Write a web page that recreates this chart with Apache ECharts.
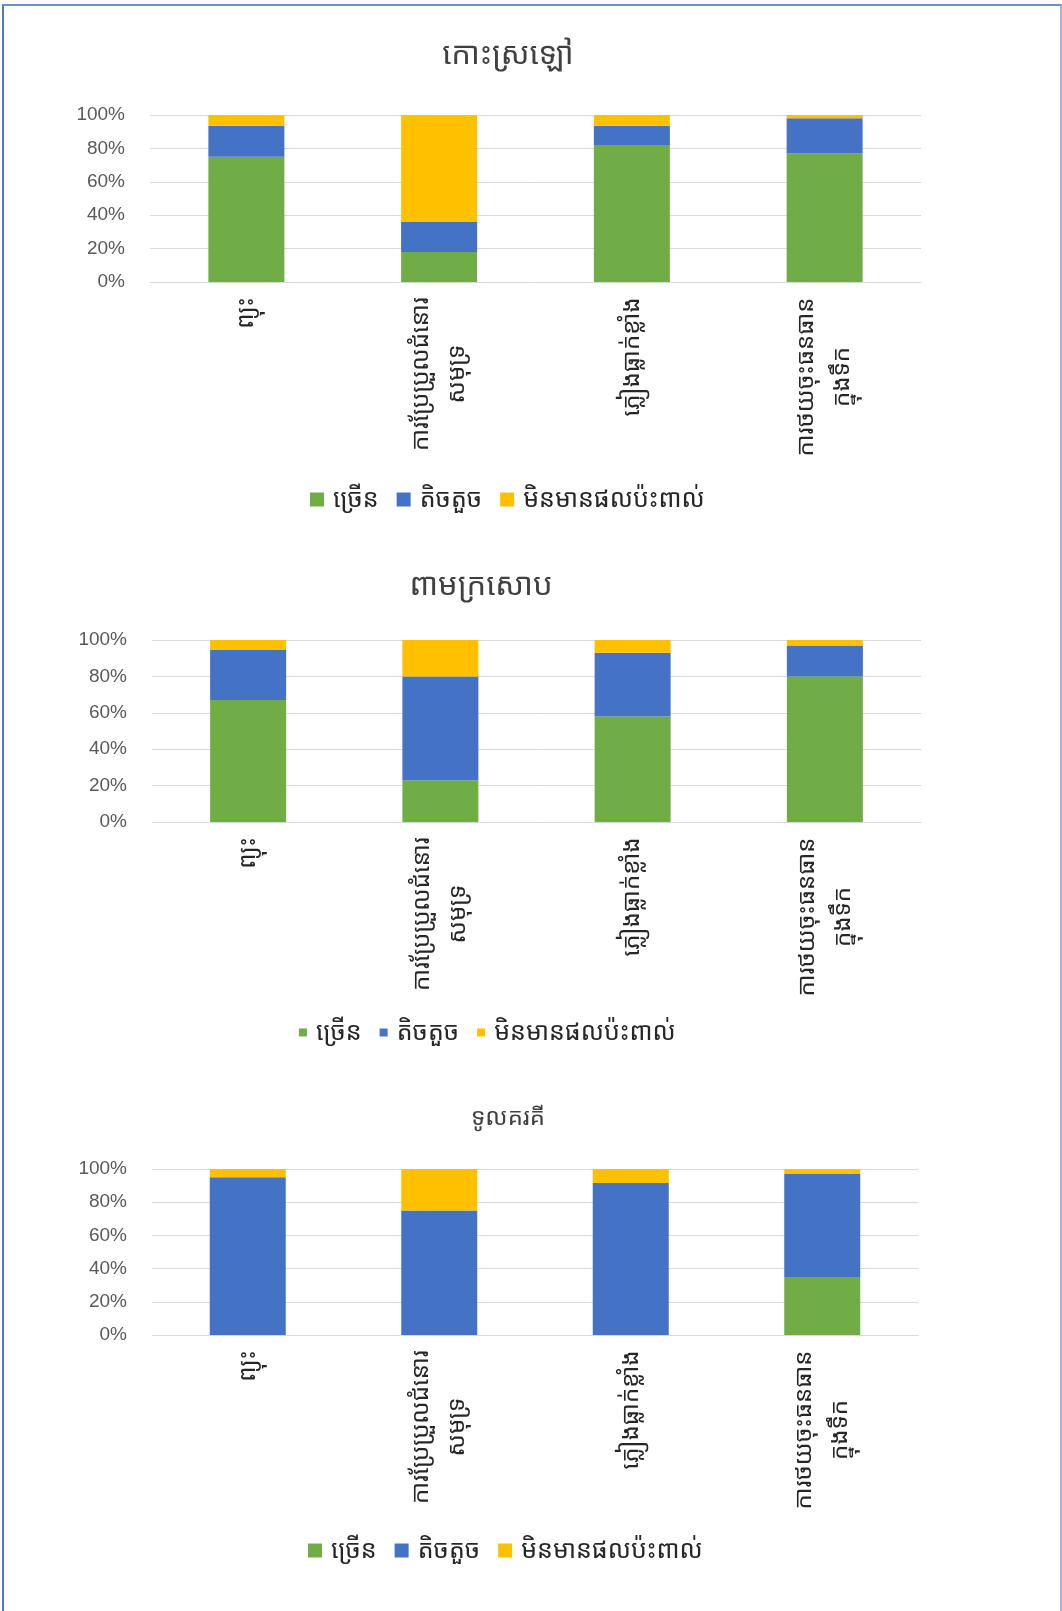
<!DOCTYPE html>
<html>
<head>
<meta charset="utf-8">
<script src="https://cdn.jsdelivr.net/npm/echarts@6/dist/echarts.min.js"></script>
<style>
  html, body { margin: 0; padding: 0; background: #fff; }
  #frame { position: absolute; left: 2px; top: 4px; width: 1056px; height: 1640px;
           border-left: 2px solid #4f7cc4; border-top: 2px solid #6d8fcb; border-right: 2px solid #9fb3d6; }
  #chart { position: absolute; left: 0; top: 0; width: 1062px; height: 1611px; }
</style>
</head>
<body>
<div id="frame"></div>
<div id="chart"></div>
<script>
// ---- data ----
const categories = ['ព្យុះ', 'ការប្រែប្រួលជំនោរ\nសមុទ្រ', 'ភ្លៀងធ្លាក់ខ្លាំង', 'ការថយចុះធនធាន\nក្នុងទឹក'];
const seriesNames = ['ច្រើន', 'តិចតួច', 'មិនមានផលប៉ះពាល់'];
const chartTitles = ['កោះស្រឡៅ', 'ពាមក្រសោប', 'ទូលគរគី'];
const yTicks = [0, 20, 40, 60, 80, 100];

const kohSralauMuch   = [75, 18, 82, 77];
const kohSralauLittle = [18.5, 18, 11.5, 21];
const kohSralauNone   = [6.5, 64, 6.5, 2];

const peamKrasopMuch   = [67, 23, 58, 80];
const peamKrasopLittle = [27.5, 57, 35, 17];
const peamKrasopNone   = [5.5, 20, 7, 3];

const toulKorKeyMuch   = [0, 0, 0, 35];
const toulKorKeyLittle = [95, 75, 91.5, 62];
const toulKorKeyNone   = [5, 25, 8.5, 3];

// ---- layout / style ----
const colors = ['#70ad47', '#4472c4', '#ffc000'];
const khmerFont = '"Khmer OS", "Khmer OS System", "Noto Sans Khmer", "Noto Serif Khmer", "Noto Sans", sans-serif';
const latinFont = '"Liberation Sans", Arial, sans-serif';
const catFontSize = 24;

// measure label lines so multi-line labels can be centred line-by-line
const ctx = document.createElement('canvas').getContext('2d');
ctx.font = catFontSize + 'px ' + khmerFont;
const catRich = {};
categories.forEach((c, idx) => {
  const w = Math.max(...c.split('\n').map(l => ctx.measureText(l).width));
  catRich['c' + idx] = { width: Math.ceil(w) + 2, align: 'center',
                         fontFamily: khmerFont, fontSize: catFontSize, color: '#262626', lineHeight: 36 };
});

const panels = [
  { data: [kohSralauMuch, kohSralauLittle, kohSralauNone],
    grid: { left: 150, top: 115, width: 771, height: 167 },
    title: { x: 503, y: 35, size: 31 },
    legend: { x: 305, y: 482, sq: 14 } },
  { data: [peamKrasopMuch, peamKrasopLittle, peamKrasopNone],
    grid: { left: 152, top: 640, width: 769, height: 182 },
    title: { x: 476, y: 566, size: 31 },
    legend: { x: 294, y: 1015, sq: 8 } },
  { data: [toulKorKeyMuch, toulKorKeyLittle, toulKorKeyNone],
    grid: { left: 152, top: 1169, width: 766, height: 166 },
    title: { x: 503, y: 1101, size: 24 },
    legend: { x: 303, y: 1533, sq: 14 } }
];

const option = {
  animation: false,
  backgroundColor: 'transparent',
  title: [], grid: [], xAxis: [], yAxis: [], legend: [], series: []
};

panels.forEach((p, i) => {
  option.title.push({
    text: chartTitles[i], left: p.title.x, top: p.title.y, textAlign: 'center',
    textStyle: { fontFamily: khmerFont, fontSize: p.title.size, fontWeight: 'normal', color: '#404040' }
  });
  option.grid.push(Object.assign({ containLabel: false }, p.grid));
  option.xAxis.push({
    type: 'category', gridIndex: i, data: categories,
    axisLine: { lineStyle: { color: '#d9d9d9' } },
    axisTick: { show: false },
    axisLabel: { rotate: 90, interval: 0, margin: 14, fontFamily: khmerFont, fontSize: catFontSize,
                 color: '#262626', lineHeight: 36,
                 formatter: (v, idx) => v.split('\n').map(l => '{c' + idx + '|' + l + '}').join('\n'),
                 rich: catRich }
  });
  option.yAxis.push({
    type: 'value', gridIndex: i, min: 0, max: 100, interval: 20,
    axisLine: { show: false }, axisTick: { show: false },
    splitLine: { lineStyle: { color: '#d9d9d9' } },
    axisLabel: { formatter: v => yTicks.includes(v) ? v + '%' : '', margin: 25,
                 fontFamily: latinFont, fontSize: 19, color: '#595959' }
  });
  option.legend.push({
    data: seriesNames, left: p.legend.x, top: p.legend.y, orient: 'horizontal',
    itemWidth: p.legend.sq, itemHeight: p.legend.sq, itemGap: 18, icon: 'rect',
    selectedMode: false,
    textStyle: { fontFamily: khmerFont, fontSize: 25, color: '#262626', padding: [0, 0, 0, 4] }
  });
  seriesNames.forEach((name, k) => {
    option.series.push({
      type: 'bar', name: name, stack: 'total' + i, xAxisIndex: i, yAxisIndex: i,
      data: p.data[k], barWidth: 76, itemStyle: { color: colors[k] }
    });
  });
});

const chart = echarts.init(document.getElementById('chart'), null, { renderer: 'canvas' });
chart.setOption(option);
</script>
</body>
</html>
